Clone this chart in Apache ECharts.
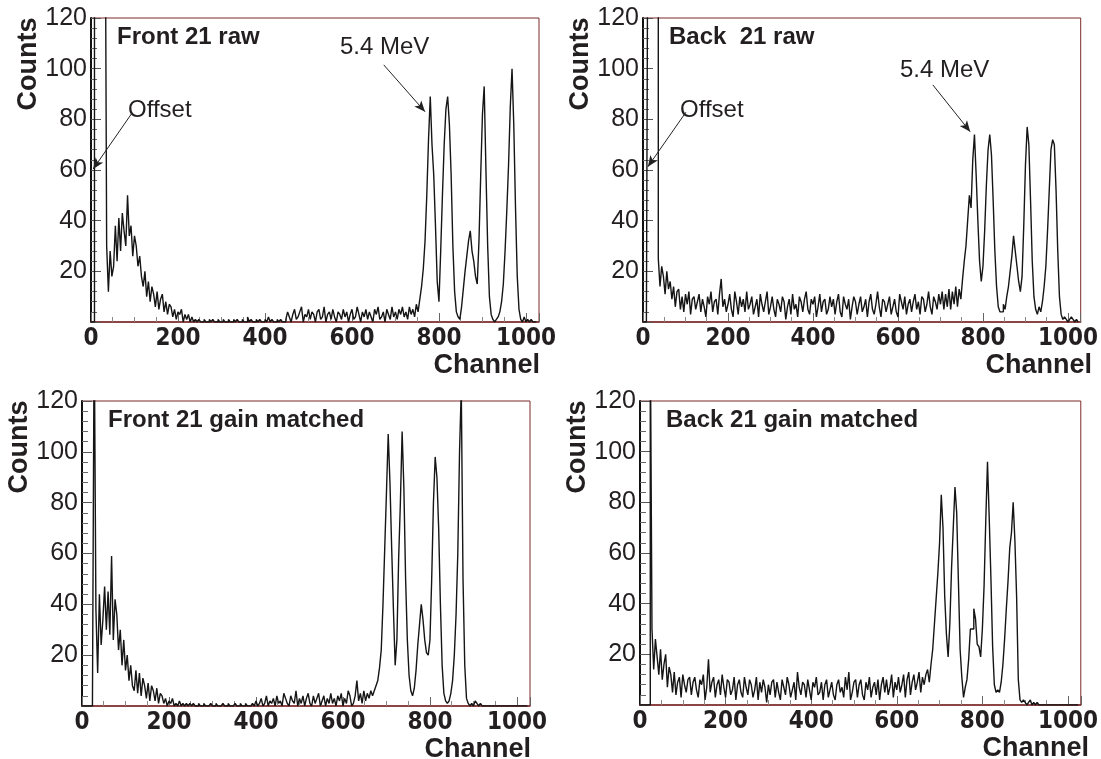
<!DOCTYPE html>
<html>
<head>
<meta charset="utf-8">
<script src="https://cdn.jsdelivr.net/npm/echarts@6/dist/echarts.min.js"></script>
<style>
  html, body { margin: 0; padding: 0; background: #fff; }
  #main { width: 1101px; height: 759px; }
</style>
</head>
<body>
<div id="main"></div>
<script>
// histograms re-binned to 4 channels per bin (bin k = channels 4k..4k+3)
var BIN = 4
var xTicks = [0, 200, 400, 600, 800, 1000]
var yTicks = [20, 40, 60, 80, 100, 120]

var front21Raw = [
  0, 0, 200, 200, 200, 200, 200, 200, 200, 30, 12, 28, 18, 22, 38, 24,
  41, 28, 43, 36, 30, 50, 34, 38, 26, 34, 30, 22, 26, 18, 14, 20,
  10, 16, 8, 14, 11, 6, 12, 5, 9, 11, 4, 8, 3, 7, 6, 2,
  5, 1, 4, 3, 5, 0, 3, 1, 3, 0, 2, 0, 1, 0, 1, 0,
  0, 1, 0, 0, 1, 0, 1, 0, 0, 1, 0, 0, 1, 0, 0, 1,
  0, 0, 1, 0, 1, 0, 0, 1, 0, 0, 2, 0, 1, 0, 0, 1,
  0, 1, 0, 0, 1, 0, 2, 0, 1, 0, 0, 1, 0, 1, 0, 0,
  1, 4, 2, 0, 3, 5, 1, 2, 4, 6, 0, 3, 2, 5, 1, 4,
  3, 0, 4, 5, 1, 2, 6, 0, 3, 4, 1, 5, 2, 0, 4, 3,
  1, 5, 2, 4, 0, 3, 5, 1, 2, 6, 3, 0, 4, 2, 5, 1,
  4, 2, 0, 5, 3, 6, 1, 2, 4, 0, 5, 3, 1, 6, 2, 4,
  1, 5, 3, 6, 2, 4, 1, 6, 3, 5, 2, 7, 4, 9, 14, 21,
  32, 50, 72, 89, 70, 58, 38, 16, 8, 28, 50, 70, 84, 89, 78, 58,
  30, 12, 4, 2, 1, 6, 13, 20, 26, 32, 36, 28, 24, 18, 15, 32,
  58, 82, 93, 60, 30, 10, 3, 1, 0, 1, 2, 4, 8, 15, 28, 44,
  62, 85, 100, 78, 45, 18, 5, 1, 0, 2, 0, 1, 0, 1, 0, 0
]

var back21Raw = [
  0, 0, 0, 200, 200, 200, 200, 200, 200, 25, 14, 22, 18, 11, 20, 13,
  16, 9, 14, 6, 12, 13, 5, 10, 4, 11, 7, 12, 3, 9, 10, 5,
  8, 11, 4, 9, 6, 2, 10, 7, 12, 4, 8, 9, 3, 11, 17, 6,
  9, 4, 7, 11, 5, 2, 12, 8, 3, 10, 6, 9, 4, 12, 5, 7,
  10, 3, 6, 9, 2, 11, 7, 4, 8, 12, 3, 6, 10, 5, 2, 9,
  7, 4, 10, 8, 1, 6, 9, 3, 11, 5, 7, 2, 10, 8, 4, 9,
  12, 5, 3, 9, 7, 10, 2, 6, 11, 4, 8, 9, 3, 5, 10, 6,
  9, 3, 8, 11, 4, 2, 10, 7, 5, 9, 1, 6, 10, 8, 3, 7,
  10, 4, 6, 9, 2, 8, 11, 5, 3, 7, 12, 6, 2, 9, 8, 4,
  7, 10, 3, 6, 9, 4, 2, 11, 8, 5, 10, 3, 7, 9, 4, 8,
  11, 5, 8, 3, 10, 9, 4, 7, 12, 6, 3, 10, 8, 5, 11, 7,
  12, 5, 11, 6, 13, 5, 12, 7, 14, 6, 13, 9, 17, 24, 30, 40,
  50, 45, 64, 74, 58, 40, 24, 16, 22, 36, 54, 68, 74, 66, 48, 28,
  14, 6, 4, 4, 7, 5, 10, 14, 20, 26, 34, 28, 22, 16, 12, 18,
  38, 62, 77, 70, 48, 24, 10, 5, 3, 6, 4, 8, 14, 22, 36, 52,
  68, 72, 70, 52, 28, 10, 3, 1, 2, 1, 0, 1, 2, 1, 0, 1
]

var front21Gain = [
  0, 0, 0, 0, 0, 0, 0, 150, 38, 13, 44, 24, 34, 47, 30, 45,
  28, 59, 26, 42, 36, 22, 30, 16, 26, 14, 20, 10, 16, 8, 6, 14,
  5, 13, 4, 11, 8, 3, 9, 2, 8, 6, 2, 7, 1, 5, 4, 1,
  3, 0, 2, 1, 3, 0, 1, 0, 2, 0, 1, 0, 1, 0, 1, 0,
  1, 0, 0, 1, 0, 0, 1, 0, 0, 0, 1, 0, 0, 1, 0, 0,
  0, 1, 0, 0, 1, 0, 0, 0, 1, 0, 0, 1, 0, 0, 1, 0,
  0, 0, 1, 0, 2, 0, 1, 3, 0, 1, 4, 0, 2, 1, 3, 0,
  4, 1, 2, 0, 5, 3, 1, 0, 4, 2, 1, 6, 0, 3, 1, 4,
  0, 3, 5, 1, 0, 4, 1, 3, 5, 0, 2, 4, 0, 3, 1, 5,
  1, 3, 0, 4, 2, 5, 0, 3, 1, 6, 4, 0, 1, 4, 10, 2,
  5, 1, 6, 2, 5, 3, 6, 4, 6, 8, 10, 15, 22, 40, 62, 84,
  107, 88, 62, 38, 16, 26, 58, 80, 108, 86, 50, 26, 12, 6, 4, 7,
  14, 24, 32, 40, 34, 26, 21, 20, 26, 50, 80, 98, 90, 70, 40, 16,
  5, 2, 1, 2, 5, 10, 20, 36, 60, 100, 125, 50, 16, 3, 1, 0,
  1, 0, 2, 1, 0, 1, 0, 0, 0, 0, 0, 0, 0, 0, 0, 0,
  0, 0, 0, 0, 0, 0, 0, 0, 0, 0, 0, 0, 0, 0, 0, 0
]

var back21Gain = [
  0, 0, 0, 0, 0, 0, 150, 30, 14, 26, 19, 12, 22, 10, 16, 20,
  7, 15, 12, 5, 13, 4, 9, 11, 3, 12, 8, 5, 10, 11, 4, 9,
  11, 6, 3, 10, 8, 12, 2, 7, 18, 5, 9, 11, 3, 8, 10, 4,
  12, 7, 3, 10, 9, 4, 6, 11, 2, 8, 10, 5, 3, 11, 7, 4,
  10, 8, 3, 6, 11, 2, 9, 5, 10, 7, 1, 8, 4, 9, 10, 3,
  9, 5, 2, 10, 7, 4, 11, 8, 3, 6, 9, 2, 13, 7, 4, 9,
  8, 3, 10, 6, 2, 9, 7, 11, 4, 5, 9, 2, 8, 10, 3, 6,
  9, 4, 2, 8, 10, 5, 7, 3, 11, 6, 13, 2, 5, 9, 10, 3,
  8, 10, 4, 2, 9, 6, 11, 3, 7, 9, 4, 10, 2, 8, 11, 5,
  10, 4, 7, 12, 3, 9, 6, 11, 5, 8, 12, 3, 10, 13, 4, 9,
  12, 6, 9, 13, 5, 11, 8, 12, 14, 9, 16, 22, 32, 42, 52, 64,
  83, 70, 43, 28, 19, 32, 54, 70, 86, 76, 49, 22, 11, 3, 7, 10,
  18, 30, 30, 38, 34, 24, 23, 19, 30, 47, 73, 96, 74, 50, 23, 8,
  5, 6, 5, 9, 16, 26, 38, 49, 62, 68, 80, 65, 43, 10, 2, 1,
  2, 1, 0, 1, 2, 0, 1, 0, 1, 0, 0, 0, 0, 0, 0, 0,
  0, 0, 0, 0, 0, 0, 0, 0, 0, 0, 0, 0, 0, 0, 0, 0
]

var panels = [
  { title: 'Front 21 raw', data: front21Raw, rect: [91, 18, 448, 304],
    offsetArrow: [[94, 82.4], [5, 60.4]], mevArrow: [[673, 101.5], [768, 83]] },
  { title: 'Back  21 raw', data: back21Raw, rect: [643, 18, 448, 304],
    offsetArrow: [[101, 82.8], [11.5, 61.3]], mevArrow: [[682, 93.6], [770, 75.1]] },
  { title: 'Front 21 gain matched', data: front21Gain, rect: [82, 401, 448, 305] },
  { title: 'Back 21 gain matched', data: back21Gain, rect: [640, 401, 448, 304] }
]

function toPoints(arr) {
  var pts = []
  for (var i = 0; i < arr.length; ++i) pts.push([i * BIN, arr[i]])
  pts.push([arr.length * BIN, 0])
  return pts
}

var FRAME = '#7d2a2a'
var grids = [], xAxes = [], yAxes = [], series = [], graphic = []

panels.forEach(function(p, i) {
  var r = p.rect
  grids.push({ left: r[0], top: r[1], width: r[2], height: r[3], show: true,
    borderColor: FRAME, borderWidth: 1, containLabel: false })
  xAxes.push({
    type: 'value', gridIndex: i, min: 0, max: 1030, interval: 200,
    axisLine: { show: true, onZero: false, lineStyle: { color: FRAME, width: 1.5 } },
    axisTick: { show: true, inside: true, length: 9, lineStyle: { color: '#666' } },
    minorTick: { show: true, splitNumber: 4, length: 5, lineStyle: { color: '#888' } },
    splitLine: { show: false },
    axisLabel: {
      margin: 5, color: '#231f20', fontSize: 24, fontWeight: 'bold',
      fontFamily: 'Liberation Sans Narrow, DejaVu Sans Condensed, Liberation Sans',
      formatter: function(v) { return xTicks.indexOf(v) >= 0 ? String(v) : '' }
    }
  })
  yAxes.push({
    type: 'value', gridIndex: i, min: 0, max: 120, interval: 20,
    axisLine: { show: true, onZero: false, lineStyle: { color: '#111', width: 2 } },
    axisTick: { show: true, inside: true, length: 10, lineStyle: { color: '#555' } },
    minorTick: { show: true, splitNumber: 5, length: 6, lineStyle: { color: '#666' } },
    splitLine: { show: false },
    axisLabel: {
      margin: 4, color: '#231f20', fontSize: 25, fontFamily: 'Liberation Sans',
      formatter: function(v) { return yTicks.indexOf(v) >= 0 ? String(v) : '' }
    }
  })

  var s = {
    type: 'line', xAxisIndex: i, yAxisIndex: i, step: 'end', symbol: 'none',
    data: toPoints(p.data), clip: true, animation: false,
    lineStyle: { color: '#151515', width: 1.4 }
  }
  if (p.offsetArrow) {
    s.markLine = {
      silent: true, symbol: ['none', 'arrow'], symbolSize: [7, 11], animation: false,
      label: { show: false },
      lineStyle: { color: '#222', width: 1, type: 'solid' },
      data: [
        [{ coord: p.offsetArrow[0] }, { coord: p.offsetArrow[1] }],
        [{ coord: p.mevArrow[0] }, { coord: p.mevArrow[1] }]
      ]
    }
  }
  series.push(s)

  // panel texts
  graphic.push({ type: 'text', x: r[0] + 26, y: r[1] + 19,
    style: { text: p.title, font: 'bold 24px Liberation Sans', fill: '#231f20',
      align: 'left', verticalAlign: 'middle' } })
  graphic.push({ type: 'text', x: r[0] - 62, y: r[1] + 46, rotation: Math.PI / 2,
    style: { text: 'Counts', font: 'bold 27px Liberation Sans', fill: '#231f20',
      align: 'center', verticalAlign: 'middle' } })
  graphic.push({ type: 'text', x: r[0] + r[2] + 1, y: r[1] + r[3] + 44,
    style: { text: 'Channel', font: 'bold 27px Liberation Sans', fill: '#231f20',
      align: 'right', verticalAlign: 'middle' } })
  if (p.offsetArrow) {
    graphic.push({ type: 'text', x: r[0] + 37, y: r[1] + 92,
      style: { text: 'Offset', font: '24px Liberation Sans', fill: '#231f20',
        align: 'left', verticalAlign: 'middle' } })
  }
})

graphic.push({ type: 'text', x: 340, y: 47,
  style: { text: '5.4 MeV', font: '24px Liberation Sans', fill: '#231f20', align: 'left', verticalAlign: 'middle' } })
graphic.push({ type: 'text', x: 900, y: 70,
  style: { text: '5.4 MeV', font: '24px Liberation Sans', fill: '#231f20', align: 'left', verticalAlign: 'middle' } })

var chart = echarts.init(document.getElementById('main'), null, { renderer: 'canvas' })
chart.setOption({
  backgroundColor: '#ffffff',
  animation: false,
  grid: grids,
  xAxis: xAxes,
  yAxis: yAxes,
  series: series,
  graphic: graphic
})
</script>
</body>
</html>
